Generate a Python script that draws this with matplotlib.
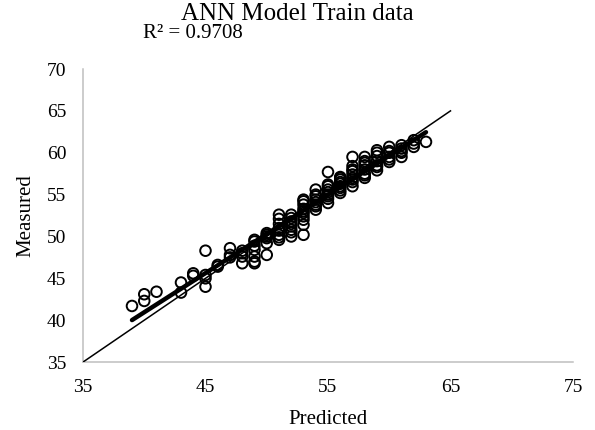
import numpy as np
import matplotlib
matplotlib.use('Agg')
import matplotlib.pyplot as plt

# values (predicted is rounded to whole numbers)
predicted = [39,
             40, 40,
             41,
             43, 43,
             44, 44,
             45, 45, 45, 45,
             46, 46,
             47, 47, 47,
             48, 48, 48, 48,
             49, 49, 49, 49, 49, 49, 49,
             50, 50, 50, 50, 50, 50,
             51, 51, 51, 51, 51, 51, 51, 51,
             52, 52, 52, 52, 52, 52, 52, 52,
             53, 53, 53, 53, 53, 53, 53, 53, 53, 53,
             54, 54, 54, 54, 54, 54, 54, 54,
             55, 55, 55, 55, 55, 55, 55, 55, 55,
             56, 56, 56, 56, 56, 56, 56, 56, 56,
             57, 57, 57, 57, 57, 57, 57, 57, 57,
             58, 58, 58, 58, 58, 58, 58, 58,
             59, 59, 59, 59, 59, 59, 59,
             60, 60, 60, 60, 60, 60,
             61, 61, 61, 61, 61,
             62, 62, 62,
             63]
measured = [41.7,
            43.1, 42.3,
            43.4,
            44.5, 43.3,
            45.6, 45.3,
            48.3, 45.0, 44.0, 45.4,
            46.6, 46.4,
            48.6, 47.5, 47.8,
            46.8, 48.0, 48.3, 47.6,
            46.8, 47.0, 48.4, 49.4, 48.9, 49.6, 47.6,
            47.8, 49.2, 50.4, 50.0, 49.8, 50.2,
            52.6, 50.7, 49.6, 51.5, 50.2, 51.0, 49.9, 52.1,
            52.6, 50.0, 50.5, 51.2, 51.8, 52.2, 50.8, 51.5,
            54.4, 51.4, 50.2, 54.2, 53.8, 53.3, 52.8, 52.4, 53.0, 52.0,
            55.6, 54.4, 53.2, 53.8, 55.0, 54.8, 53.6, 54.1,
            57.7, 56.2, 54.0, 55.0, 54.5, 55.6, 55.3, 54.8, 56.0,
            57.1, 55.2, 56.5, 56.0, 55.8, 56.8, 55.5, 56.3, 57.0,
            59.5, 58.4, 56.0, 57.8, 57.0, 56.5, 57.4, 58.0, 56.8,
            59.5, 57.0, 58.0, 59.0, 58.5, 57.5, 58.8, 57.3,
            60.3, 57.9, 59.0, 59.6, 58.5, 60.0, 58.3,
            60.7, 58.9, 59.5, 60.2, 60.0, 59.2,
            60.9, 59.5, 60.0, 60.5, 60.2,
            61.1, 60.7, 61.5,
            61.3]
one_to_one = [35, 65]
x_ticks = [35, 45, 55, 65, 75]
y_ticks = [35, 40, 45, 50, 55, 60, 65, 70]
r2_text = 'R² = 0.9708'

plt.rcParams['font.family'] = ['Liberation Serif', 'DejaVu Serif']

fig = plt.figure(figsize=(5.95, 4.3), dpi=100)
ax = fig.add_axes([0.1395, 0.158, 0.8235, 0.6815])

ax.scatter(predicted, measured, s=58, facecolors='none', edgecolors='black',
           linewidths=1.4, zorder=2)
ax.plot(one_to_one, one_to_one, color='black', lw=1.1, zorder=3)

# linear trendline
slope, icept = np.polyfit(predicted, measured, 1)
tx = np.array([min(predicted), max(predicted)])
ax.plot(tx, slope * tx + icept, color='black', lw=3.2, solid_capstyle='round', zorder=4)

ax.set_xlim(35, 75)
ax.set_ylim(35, 70)
ax.set_xticks(x_ticks)
ax.set_yticks(y_ticks)
ax.tick_params(length=0, labelsize=14, pad=12)
for s in ['top', 'right']:
    ax.spines[s].set_visible(False)
for s in ['left', 'bottom']:
    ax.spines[s].set_color('#bfbfbf')
    ax.spines[s].set_linewidth(1.1)

ax.set_xlabel('Predicted', fontsize=15, labelpad=10)
ax.set_ylabel('Measured', fontsize=15, labelpad=8)
fig.text(0.5, 0.968, 'ANN Model Train data', ha='center', va='center', fontsize=18)
fig.text(0.24, 0.922, r2_text, ha='left', va='center', fontsize=15)

fig.savefig('out.png', dpi=100)
